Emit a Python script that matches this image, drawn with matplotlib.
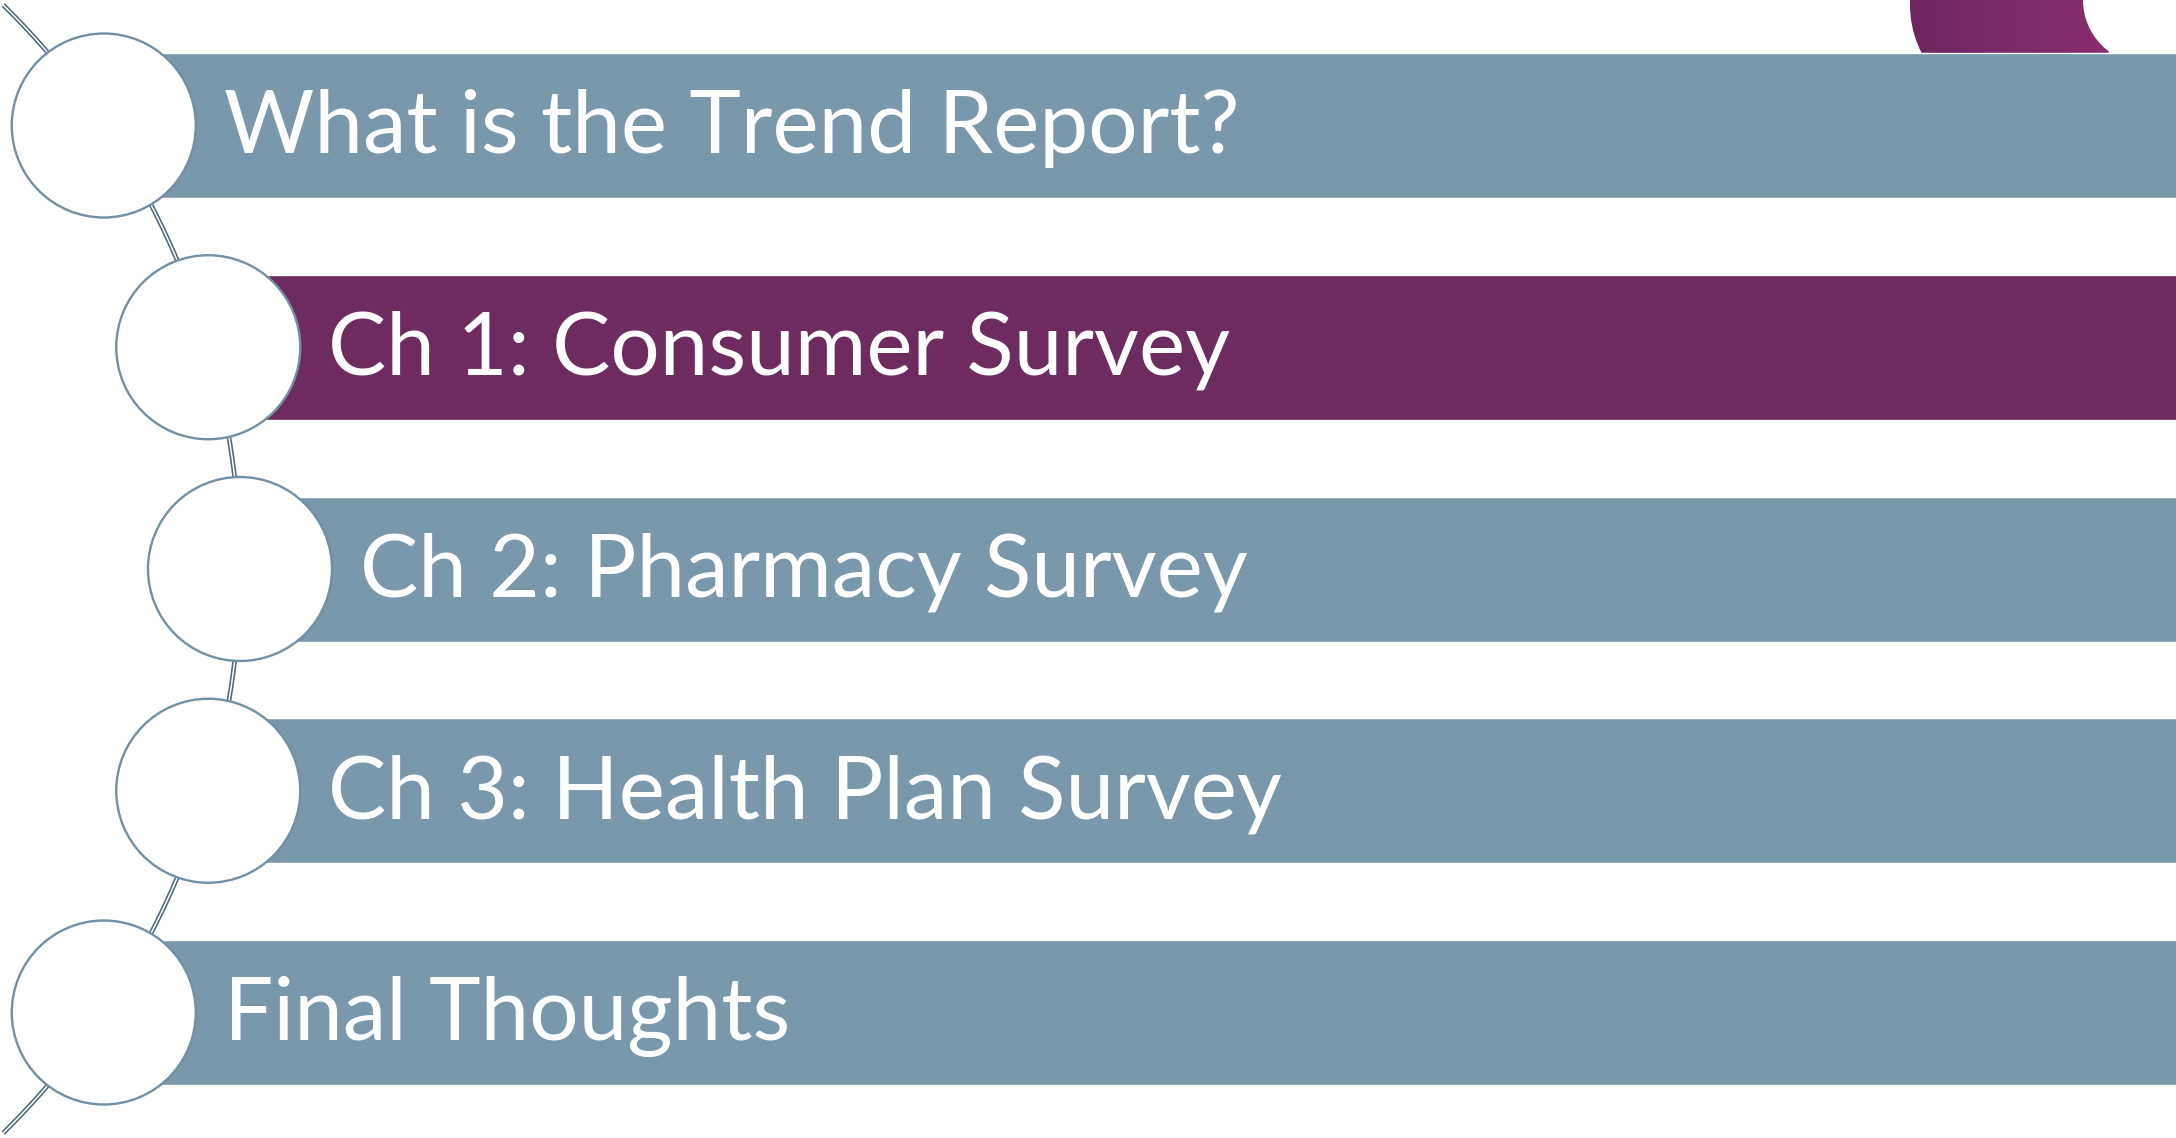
import numpy as np
import matplotlib
matplotlib.use('Agg')
import matplotlib.pyplot as plt
from matplotlib.patches import Circle, Rectangle
from matplotlib.colors import LinearSegmentedColormap

# agenda items, top to bottom
labels = ["What is the Trend Report?",
          "Ch 1: Consumer Survey",
          "Ch 2: Pharmacy Survey",
          "Ch 3: Health Plan Survey",
          "Final Thoughts"]
highlight = [False, True, False, False, False]

blue = '#7a98ac'
purple = '#6e2b60'
arc_color = '#4f6a7d'

W, H = 2176, 1138
fig = plt.figure(figsize=(W / 100, H / 100), dpi=100)
ax = fig.add_axes([0, 0, 1, 1])

# layout in pixel units (y goes down)
row_top = 53
row_gap = 221.75
bar_h = 145
circ_r = 92
arc_cx, arc_cy, arc_r = -550, 569, 790

# decorative crescent in the top right corner
grad = np.linspace(0, 1, 256).reshape(1, -1)
cmap = LinearSegmentedColormap.from_list('pp', ['#6b2661', '#8d2e70'])
im = ax.imshow(grad, extent=(1905, 2125, 115, -105), cmap=cmap, aspect='auto', zorder=1.5)
clip = Circle((2015, 5), 105, transform=ax.transData, fc='none', ec='none')
ax.add_patch(clip)
im.set_clip_path(clip)
ax.add_patch(Circle((2147, 0), 64, fc='white', ec='none', zorder=1.6))

# curved double line through the circles
ys = np.linspace(5, 1133, 400)
xs = arc_cx + np.sqrt(arc_r ** 2 - (ys - arc_cy) ** 2)
ax.plot(xs, ys, color=arc_color, lw=3.4, solid_capstyle='butt', zorder=1)
ax.plot(xs, ys, color='white', lw=1.1, solid_capstyle='butt', zorder=1.1)

texts = []
for i, lab in enumerate(labels):
    yc = row_top + bar_h / 2 + i * row_gap
    xc = arc_cx + np.sqrt(arc_r ** 2 - (yc - arc_cy) ** 2)
    color = purple if highlight[i] else blue
    ax.add_patch(Rectangle((xc, yc - bar_h / 2), W - xc + 20, bar_h,
                           fc=color, ec='white', lw=1, zorder=2))
    ax.add_patch(Circle((xc, yc), circ_r, fc='white', ec='#7290a5', lw=1.7, zorder=3))
    t = ax.text(xc + 120, yc + 27.5, lab, color='white', fontsize=60,
                family='Lato', ha='left', va='baseline', zorder=4)
    texts.append(t)

ax.set_xlim(0, W)
ax.set_ylim(H, 0)
ax.axis('off')

# size the text so the first line spans the same width as in the slide
fig.canvas.draw()
r = fig.canvas.get_renderer()
w = texts[0].get_window_extent(r).width
fs = 60 * 1017 / w
for t in texts:
    t.set_fontsize(fs)

fig.savefig('out.png', dpi=100, facecolor='white')
